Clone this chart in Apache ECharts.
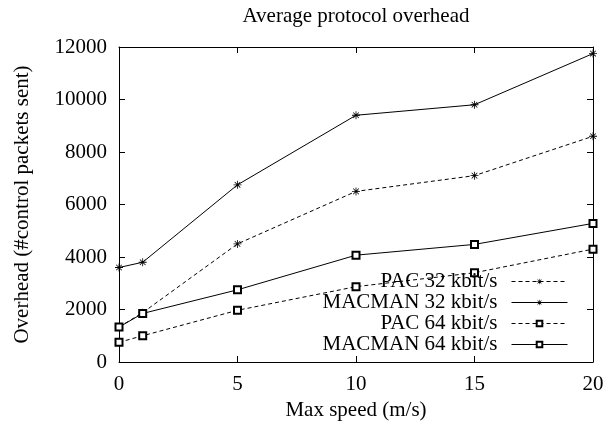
<!DOCTYPE html>
<html>
<head>
<meta charset="utf-8">
<script src="https://cdn.jsdelivr.net/npm/echarts@6/dist/echarts.min.js"></script>
<style>
  html, body { margin: 0; padding: 0; background: #fff; }
  #chart { width: 608px; height: 428px; }
</style>
</head>
<body>
<div id="chart"></div>
<script>
// max speed (m/s)
const speeds = [0, 1, 5, 10, 15, 20]
// overhead, #control packets sent
const pac32 = [1330, 1880, 4500, 6500, 7100, 8600]
const macman32 = [3600, 3800, 6750, 9400, 9800, 11750]
const pac64 = [750, 1000, 1970, 2870, 3400, 4300]
const macman64 = [1330, 1850, 2750, 4070, 4480, 5280]
const seriesNames = ['PAC 32 kbit/s', 'MACMAN 32 kbit/s', 'PAC 64 kbit/s', 'MACMAN 64 kbit/s']
const xTicks = [0, 5, 10, 15, 20]
const yTicks = [0, 2000, 4000, 6000, 8000, 10000, 12000]

const font = 'Liberation Serif'
// gnuplot style asterisk (+ and x)
const star = 'path://M0 9L20 9L20 11L0 11Z M9 0L11 0L11 20L9 20Z M3.7 2.3L17.7 16.3L16.3 17.7L2.3 3.7Z M16.3 2.3L17.7 3.7L3.7 17.7L2.3 16.3Z'

const pairs = (arr) => speeds.map((s, i) => [s, arr[i]])

const makeSeries = (name, arr, dashed, isStar) => ({
  name: name,
  type: 'line',
  data: pairs(arr),
  symbol: isStar ? star : 'emptyRect',
  symbolSize: isStar ? 8 : 7,
  showAllSymbol: true,
  lineStyle: { color: '#000', width: 1, type: dashed ? [4, 3] : 'solid' },
  itemStyle: { color: '#000', borderColor: '#000', borderWidth: isStar ? 0 : 1 },
  emphasis: { disabled: true }
})

// legend rows, stacked bottom right like gnuplot's key
const legendTops = [271, 292, 313, 334]
const legends = seriesNames.map((n, i) => ({
  data: [n],
  right: 40,
  top: legendTops[i],
  padding: 0,
  align: 'right',
  itemWidth: 56,
  itemHeight: 7,
  selectedMode: false,
  lineStyle: { width: 1 },
  itemStyle: { borderWidth: i < 2 ? 0 : 1 },
  textStyle: { fontFamily: font, fontSize: 21, color: '#000', padding: [0, 9, 0, 0] }
}))

const axisCommon = {
  type: 'value',
  axisLine: { show: true, onZero: false, lineStyle: { color: '#000', width: 1 } },
  axisTick: { show: true, inside: true, length: 6, lineStyle: { color: '#000' } },
  splitLine: { show: false }
}

const chart = echarts.init(document.getElementById('chart'))
chart.setOption({
  animation: false,
  backgroundColor: '#fff',
  title: {
    text: 'Average protocol overhead',
    left: 356,
    top: 6,
    textAlign: 'center',
    padding: 0,
    textStyle: { fontFamily: font, fontSize: 21, fontWeight: 'normal', color: '#000' }
  },
  grid: { left: 119, right: 15, top: 47, bottom: 66 },
  legend: legends,
  xAxis: [
    Object.assign({}, axisCommon, {
      position: 'bottom',
      min: xTicks[0],
      max: xTicks[xTicks.length - 1],
      interval: 5,
      name: 'Max speed (m/s)',
      nameLocation: 'middle',
      nameGap: 38,
      nameTextStyle: { fontFamily: font, fontSize: 21, color: '#000' },
      axisLabel: { margin: 12, fontFamily: font, fontSize: 21, color: '#000', formatter: (v) => String(v) }
    }),
    Object.assign({}, axisCommon, {
      position: 'top',
      min: xTicks[0],
      max: xTicks[xTicks.length - 1],
      interval: 5,
      axisLabel: { show: false }
    })
  ],
  yAxis: [
    Object.assign({}, axisCommon, {
      position: 'left',
      min: yTicks[0],
      max: yTicks[yTicks.length - 1],
      interval: 2000,
      name: 'Overhead (#control packets sent)',
      nameLocation: 'middle',
      nameGap: 86,
      nameTextStyle: { fontFamily: font, fontSize: 21, color: '#000' },
      axisLabel: { margin: 12, fontFamily: font, fontSize: 21, color: '#000', formatter: (v) => String(v) }
    }),
    Object.assign({}, axisCommon, {
      position: 'right',
      min: yTicks[0],
      max: yTicks[yTicks.length - 1],
      interval: 2000,
      axisLabel: { show: false }
    })
  ],
  series: [
    makeSeries(seriesNames[0], pac32, true, true),
    makeSeries(seriesNames[1], macman32, false, true),
    makeSeries(seriesNames[2], pac64, true, false),
    makeSeries(seriesNames[3], macman64, false, false)
  ]
})
</script>
</body>
</html>
